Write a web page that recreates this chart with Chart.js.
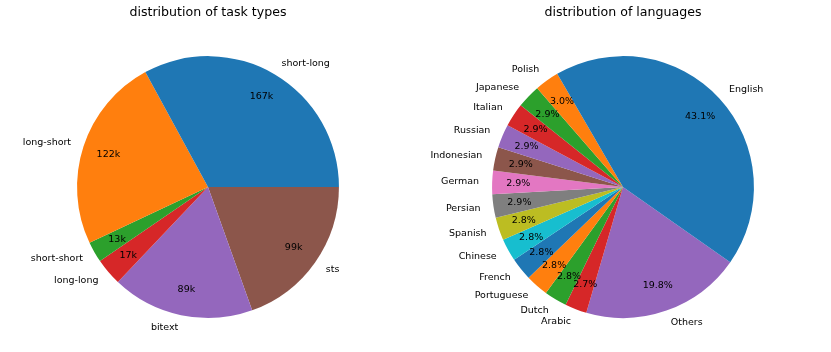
<!DOCTYPE html>
<html>
<head>
<meta charset="utf-8">
<script src="https://cdn.jsdelivr.net/npm/chart.js@4/dist/chart.umd.min.js"></script>
<style>
    html, body { margin: 0; padding: 0; background: #fff; }
    .wrap { position: absolute; top: 0; height: 352px; }
    #leftWrap { left: 0; width: 415px; }
    #rightWrap { left: 415px; width: 416px; }
</style>
</head>
<body>
<div class="wrap" id="leftWrap"><canvas id="taskChart"></canvas></div>
<div class="wrap" id="rightWrap"><canvas id="langChart"></canvas></div>
<script>
// matplotlib tab10 cycle
const tab10 = [
    "#1f77b4", "#ff7f0e", "#2ca02c", "#d62728", "#9467bd",
    "#8c564b", "#e377c2", "#7f7f7f", "#bcbd22", "#17becf"
];

// task types, counted in thousands
const taskLabels = ["short-long", "long-short", "short-short", "long-long", "bitext", "sts"];
const taskValues = [167, 122, 13, 17, 89, 99];

// languages, percent of total
const langLabels = [
    "English", "Polish", "Japanese", "Italian", "Russian", "Indonesian", "German",
    "Persian", "Spanish", "Chinese", "French", "Portuguese", "Dutch", "Arabic", "Others"
];
const langValues = [43.1, 3.0, 2.9, 2.9, 2.9, 2.9, 2.9, 2.9, 2.8, 2.8, 2.8, 2.8, 2.8, 2.7, 19.8];

const FONT = "'DejaVu Sans', sans-serif";
Chart.defaults.font.family = FONT;
Chart.defaults.color = "#000";

// draws matplotlib-style labels (outside, at 1.1 r) and values (inside, at 0.8 r)
const pieLabels = {
    id: "pieLabels",
    afterDatasetsDraw(chart, args, opts) {
        const ctx = chart.ctx;
        const meta = chart.getDatasetMeta(0);
        const data = chart.data.datasets[0].data;
        const total = data.reduce((a, b) => a + b, 0);
        ctx.save();
        ctx.font = "9.5px " + FONT;
        ctx.fillStyle = "#000";
        ctx.textBaseline = "middle";
        meta.data.forEach((arc, i) => {
            const mid = (arc.startAngle + arc.endAngle) / 2;
            const r = arc.outerRadius;
            const cx = arc.x, cy = arc.y;
            const lx = cx + Math.cos(mid) * r * 1.1;
            const ly = cy + Math.sin(mid) * r * 1.1;
            ctx.textAlign = Math.cos(mid) > 0 ? "left" : "right";
            ctx.fillText(chart.data.labels[i], lx, ly);
            ctx.textAlign = "center";
            const px = cx + Math.cos(mid) * r * 0.8;
            const py = cy + Math.sin(mid) * r * 0.8;
            ctx.fillText(opts.format(data[i], total), px, py);
        });
        ctx.restore();
    }
};

// matplotlib draws counter-clockwise from startangle, chart.js clockwise,
// so feed the slices reversed and rotate to match
function makePie(id, title, labels, values, colors, startAngle, format, padL, padR) {
    const rev = arr => arr.slice().reverse();
    new Chart(document.getElementById(id), {
        type: "pie",
        data: {
            labels: rev(labels),
            datasets: [{
                data: rev(values),
                backgroundColor: rev(colors),
                borderWidth: 0
            }]
        },
        options: {
            responsive: true,
            maintainAspectRatio: false,
            animation: false,
            rotation: 90 - startAngle,
            layout: { padding: { left: padL, right: padR, top: 0, bottom: 34 } },
            plugins: {
                legend: { display: false },
                tooltip: { enabled: false },
                title: {
                    display: true,
                    text: title,
                    color: "#000",
                    font: { size: 12.6, weight: "normal", family: FONT },
                    padding: { top: 5, bottom: 36 }
                },
                pieLabels: { format: format }
            }
        },
        plugins: [pieLabels]
    });
}

makePie("taskChart", "distribution of task types", taskLabels, taskValues,
    taskLabels.map((_, i) => tab10[i % 10]), 0,
    (v) => v + "k", 77, 76);

makePie("langChart", "distribution of languages", langLabels, langValues,
    langLabels.map((_, i) => tab10[i % 10]), -35,
    (v, t) => (v / t * 100).toFixed(1) + "%", 77, 77);
</script>
</body>
</html>
